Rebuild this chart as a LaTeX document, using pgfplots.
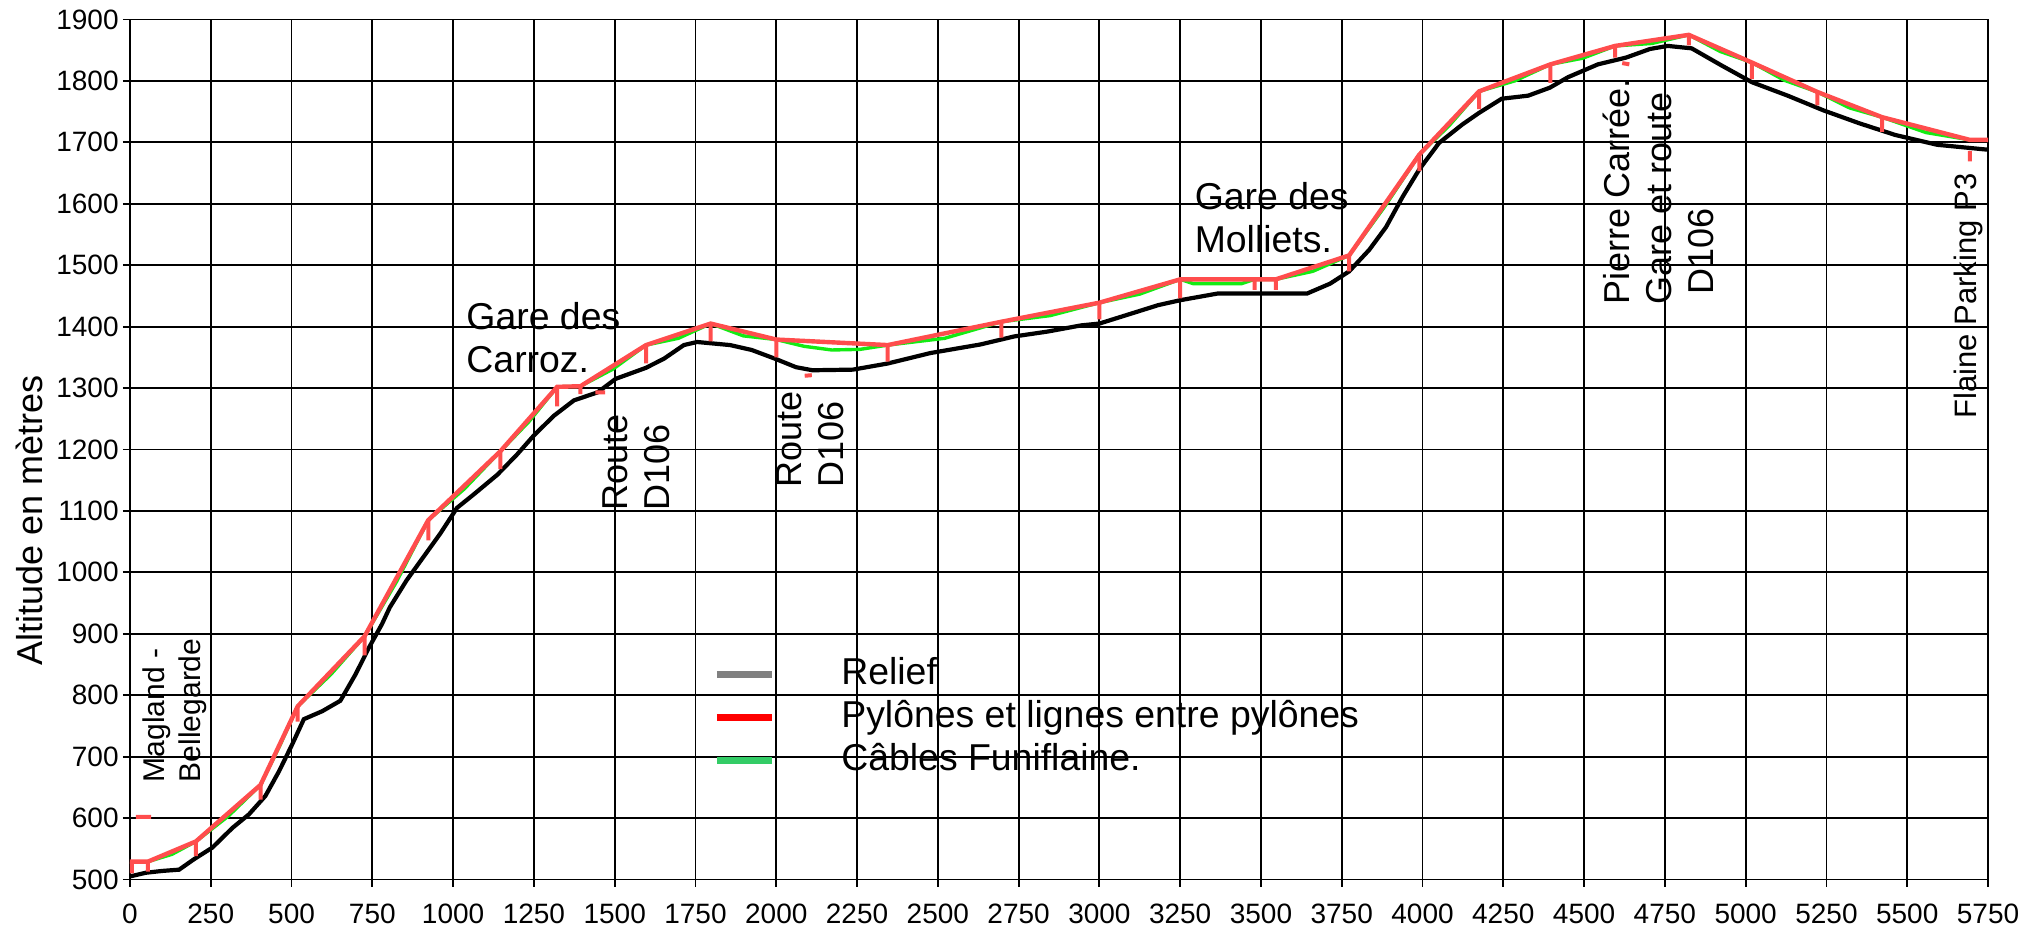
\documentclass[border=0pt]{standalone}
\usepackage{fontspec}
\setmainfont{Liberation Sans}
\usepackage{pgfplots}
\pgfplotsset{compat=1.18}
\definecolor{pyl}{RGB}{255,77,77}
\definecolor{cab}{RGB}{20,235,20}
\definecolor{legred}{RGB}{255,0,0}
\definecolor{leggreen}{RGB}{51,204,102}
\definecolor{leggray}{RGB}{128,128,128}
\begin{document}
\begin{tikzpicture}
\path[use as bounding box] (-65pt,-26.25pt) rectangle (955pt,439.75pt);
\begin{axis}[
  scale only axis, width=929pt, height=430pt,
  xmin=0, xmax=5750, ymin=500, ymax=1900,
  xtick distance=250, ytick distance=100,
  grid=major, major grid style={black, line width=0.9pt},
  axis line style={black, line width=0.9pt},
  tick align=outside, major tick length=3.5pt, tick style={black, line width=0.9pt},
  xtick pos=bottom, ytick pos=left,
  /pgf/number format/assume math mode=true,
  /pgf/number format/set thousands separator={},
  ticklabel style={font=\fontsize{14}{16}\selectfont, inner sep=0pt},
  yticklabel style={anchor=east, xshift=-2pt},
  xticklabel style={anchor=north, yshift=-8.5pt},
  ylabel={Altitude en mètres},
  every axis y label/.style={at={(axis description cs:0,0.4175)}, rotate=90, anchor=center, yshift=50.5pt, font=\fontsize{18}{21}\selectfont},
  clip=false,
  unbounded coords=jump,
  legend style={draw=none, fill=none, at={(axis cs:1804,763)}, anchor=west, inner sep=0pt, row sep=4pt, column sep=33pt,
    font=\fontsize{18.7}{21.5}\selectfont, nodes={inner sep=0pt, text height=13.5pt, text depth=4pt}},
  legend cell align=left,
  legend image code/.code={\draw[#1] (0pt,0pt) -- (27.5pt,0pt);},
]
% Relief
\addplot[black, line width=2.1pt, forget plot] coordinates {
(0,505) (49,511) (101,514) (152,516) (198,533) (255,552) (317,584) (368,606) (419,636) (461,676)
(502,720) (538,761) (595,774) (651,791) (698,834) (739,877) (780,916) (804,943) (856,987) (908,1025)
(960,1063) (1012,1105) (1064,1127) (1137,1159) (1198,1192) (1250,1223) (1312,1255) (1374,1280) (1447,1293) (1503,1315)
(1597,1333) (1653,1348) (1714,1370) (1755,1375) (1796,1373) (1857,1370) (1924,1362) (2000,1347) (2061,1334) (2112,1329)
(2237,1330) (2345,1340) (2477,1357) (2632,1371) (2736,1384) (2840,1392) (2943,1402) (3000,1405) (3182,1435) (3250,1443)
(3367,1454) (3643,1454) (3714,1470) (3773,1490) (3835,1525) (3887,1562) (3938,1611) (3990,1656) (4051,1699) (4123,1729)
(4175,1748) (4245,1771) (4327,1776) (4394,1789) (4450,1806) (4543,1827) (4630,1838) (4704,1852) (4759,1857) (4833,1853)
(4926,1825) (5019,1798) (5130,1776) (5241,1752) (5352,1731) (5463,1712) (5593,1696) (5750,1688)};
% Cables
\addplot[cab, line width=1.7pt, forget plot] coordinates {
(55,529) (130,541) (204,562) (304,603) (404,654) (461,715) (519,782) (622,834) (726,896) (825,985)
(923,1085) (1035,1136) (1146,1197) (1234,1245) (1322,1302) (1394,1303) (1495,1331) (1597,1370) (1697,1381) (1797,1405)
(1898,1385) (2000,1379) (2086,1368) (2172,1362) (2259,1363) (2345,1370) (2521,1381) (2697,1408) (2848,1418) (3000,1439)
(3125,1453) (3250,1477) (3290,1470) (3440,1470) (3480,1477) (3546,1477) (3660,1490) (3773,1516) (3881,1594) (3990,1680)
(4082,1727) (4175,1783) (4285,1800) (4396,1827) (4496,1837) (4596,1857) (4710,1861) (4824,1875) (4921,1848) (5019,1830)
(5120,1801) (5222,1782) (5322,1756) (5422,1741) (5558,1716) (5694,1704)};
% Lines between pylons
\addplot[pyl, line width=2.2pt, forget plot] coordinates {
(0,529) (55,529) (204,562) (404,654) (519,782) (726,896) (923,1085) (1146,1197) (1322,1302) (1394,1303)
(1597,1370) (1797,1405) (2000,1379) (2345,1370) (2697,1408) (3000,1439) (3250,1477) (3546,1477) (3773,1516) (3990,1680)
(4175,1783) (4396,1827) (4596,1857) (4824,1875) (5019,1830) (5222,1782) (5422,1741) (5694,1704) (5750,1704)};
% Pylons and small marks
\addplot[pyl, line width=2pt, forget plot] coordinates {
(6,529) (6,510) (6,nan) (55,529) (55,513) (55,nan) (204,562) (204,538) (204,nan) (404,654) (404,630) (404,nan)
(519,782) (519,757) (519,nan) (726,896) (726,865) (726,nan) (923,1085) (923,1052) (923,nan) (1146,1197) (1146,1168) (1146,nan)
(1322,1302) (1322,1270) (1322,nan) (1394,1303) (1394,1290) (1394,nan) (1597,1370) (1597,1340) (1597,nan) (1797,1405) (1797,1376) (1797,nan)
(2000,1379) (2000,1350) (2000,nan) (2345,1370) (2345,1343) (2345,nan) (2697,1408) (2697,1382) (2697,nan) (3000,1439) (3000,1412) (3000,nan)
(3250,1477) (3250,1446) (3250,nan) (3480,1477) (3480,1460) (3480,nan) (3546,1477) (3546,1460) (3546,nan) (3773,1516) (3773,1490) (3773,nan)
(3990,1680) (3990,1653) (3990,nan) (4175,1783) (4175,1754) (4175,nan) (4396,1827) (4396,1797) (4396,nan) (4596,1857) (4596,1838) (4596,nan)
(4824,1875) (4824,1858) (4824,nan) (5019,1830) (5019,1803) (5019,nan) (5222,1782) (5222,1760) (5222,nan) (5422,1741) (5422,1717) (5422,nan)
(18,602) (65,602) (65,nan) (1440,1293) (1470,1293) (1470,nan) (2088,1320) (2110,1321) (2110,nan) (4618,1829) (4640,1827) (4640,nan)
(5694,1686) (5694,1669)};
\addlegendimage{leggray, line width=3.5pt}
\addlegendentry{Relief}
\addlegendimage{legred, line width=3.5pt}
\addlegendentry{Pylônes et lignes entre pylônes}
\addlegendimage{leggreen, line width=3.5pt}
\addlegendentry{Câbles Funiflaine.}
% Annotations
\node[anchor=north west, inner sep=0pt, align=left, font=\fontsize{18.7}{21.5}\selectfont] at (axis cs:1040,1440) {Gare des\\Carroz.};
\node[anchor=north west, inner sep=0pt, align=left, font=\fontsize{18.7}{21.5}\selectfont] at (axis cs:3294,1635) {Gare des\\Molliets.};
\node[rotate=90, anchor=west, inner sep=0pt, align=left, font=\fontsize{18}{21}\selectfont] at (axis cs:1566,1100) {Route\\D106};
\node[rotate=90, anchor=west, inner sep=0pt, align=left, font=\fontsize{18}{21}\selectfont] at (axis cs:2104,1138) {Route\\D106};
\node[rotate=90, anchor=west, inner sep=0pt, align=left, font=\fontsize{18}{21}\selectfont] at (axis cs:4730,1435) {Pierre Carrée.\\Gare et route\\\hspace*{5pt}D106};
\node[rotate=90, anchor=west, inner sep=0pt, align=left, font=\fontsize{15.5}{18}\selectfont] at (axis cs:5689,1250) {Flaine Parking P3};
\node[rotate=90, anchor=west, inner sep=0pt, align=left, font=\fontsize{15}{18}\selectfont] at (axis cs:139,658) {Magland -\\Bellegarde};
\end{axis}
\end{tikzpicture}
\end{document}
